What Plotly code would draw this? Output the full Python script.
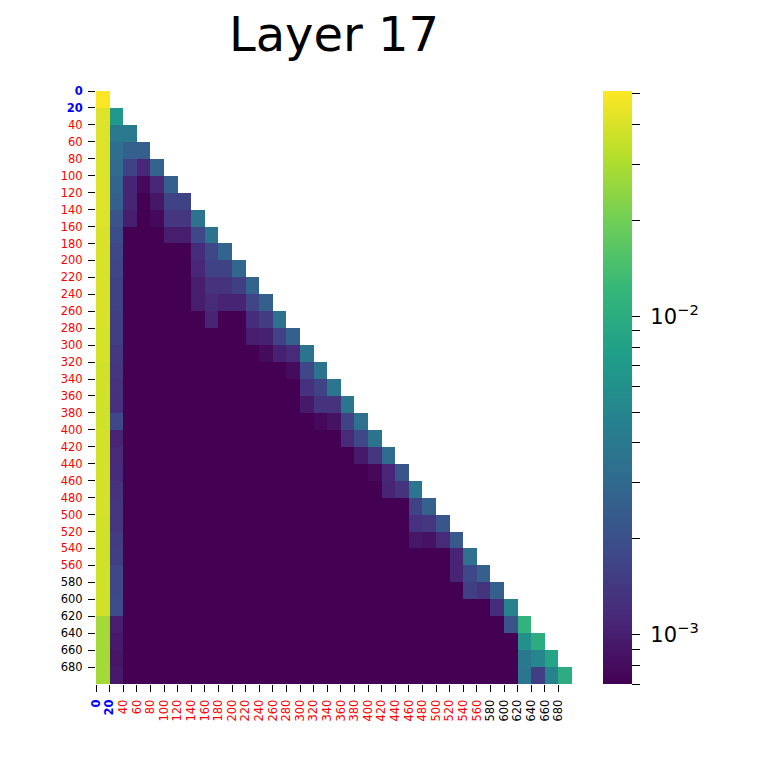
import numpy as np
import plotly.graph_objects as go

# Attention values (x 10^-3), lower-triangular rows (row i has i+1 cells)
rows_e3 = [
    [51.0],
    [41.1, 6.8],
    [41.1, 4.1, 4.1],
    [41.1, 3.28, 2.53, 2.53],
    [41.1, 3.14, 1.65, 1.12, 2.76],
    [41.1, 2.76, 1.07, 0.76, 1.12, 2.53],
    [41.1, 2.53, 1.07, 0.7, 0.9, 1.65, 1.65],
    [41.1, 2.13, 0.99, 0.7, 0.76, 1.39, 1.39, 3.57],
    [40.0, 1.96, 0.7, 0.7, 0.7, 0.99, 0.99, 1.8, 3.57],
    [40.0, 1.8, 0.7, 0.7, 0.7, 0.7, 0.7, 1.22, 1.8, 2.76],
    [40.0, 1.72, 0.7, 0.7, 0.7, 0.7, 0.7, 1.12, 1.65, 1.65, 2.88],
    [40.0, 1.65, 0.7, 0.7, 0.7, 0.7, 0.7, 0.99, 1.33, 1.33, 1.58, 2.76],
    [40.0, 1.65, 0.7, 0.7, 0.7, 0.7, 0.7, 0.99, 1.17, 1.07, 1.07, 1.72, 2.53],
    [40.0, 1.58, 0.7, 0.7, 0.7, 0.7, 0.7, 0.7, 1.07, 0.7, 0.7, 1.22, 1.51, 3.42],
    [39.0, 1.58, 0.7, 0.7, 0.7, 0.7, 0.7, 0.7, 0.7, 0.7, 0.7, 0.99, 1.03, 1.65, 2.53],
    [39.0, 1.45, 0.7, 0.7, 0.7, 0.7, 0.7, 0.7, 0.7, 0.7, 0.7, 0.7, 0.8, 1.03, 1.17, 3.57],
    [37.8, 1.39, 0.7, 0.7, 0.7, 0.7, 0.7, 0.7, 0.7, 0.7, 0.7, 0.7, 0.7, 0.7, 0.8, 1.8, 3.57],
    [37.8, 1.33, 0.7, 0.7, 0.7, 0.7, 0.7, 0.7, 0.7, 0.7, 0.7, 0.7, 0.7, 0.7, 0.7, 1.28, 1.65, 3.73],
    [37.8, 1.28, 0.7, 0.7, 0.7, 0.7, 0.7, 0.7, 0.7, 0.7, 0.7, 0.7, 0.7, 0.7, 0.7, 0.94, 1.33, 1.33, 3.73],
    [37.8, 1.8, 0.7, 0.7, 0.7, 0.7, 0.7, 0.7, 0.7, 0.7, 0.7, 0.7, 0.7, 0.7, 0.7, 0.7, 0.76, 0.87, 1.65, 3.42],
    [38.5, 1.07, 0.7, 0.7, 0.7, 0.7, 0.7, 0.7, 0.7, 0.7, 0.7, 0.7, 0.7, 0.7, 0.7, 0.7, 0.7, 0.7, 1.17, 1.8, 3.57],
    [38.5, 1.17, 0.7, 0.7, 0.7, 0.7, 0.7, 0.7, 0.7, 0.7, 0.7, 0.7, 0.7, 0.7, 0.7, 0.7, 0.7, 0.7, 0.7, 0.94, 1.39, 3.14],
    [38.5, 1.22, 0.7, 0.7, 0.7, 0.7, 0.7, 0.7, 0.7, 0.7, 0.7, 0.7, 0.7, 0.7, 0.7, 0.7, 0.7, 0.7, 0.7, 0.7, 0.76, 1.12, 2.13],
    [38.5, 1.33, 0.7, 0.7, 0.7, 0.7, 0.7, 0.7, 0.7, 0.7, 0.7, 0.7, 0.7, 0.7, 0.7, 0.7, 0.7, 0.7, 0.7, 0.7, 0.7, 1.07, 1.33, 3.73],
    [38.5, 1.39, 0.7, 0.7, 0.7, 0.7, 0.7, 0.7, 0.7, 0.7, 0.7, 0.7, 0.7, 0.7, 0.7, 0.7, 0.7, 0.7, 0.7, 0.7, 0.7, 0.7, 0.7, 1.65, 2.65],
    [37.8, 1.39, 0.7, 0.7, 0.7, 0.7, 0.7, 0.7, 0.7, 0.7, 0.7, 0.7, 0.7, 0.7, 0.7, 0.7, 0.7, 0.7, 0.7, 0.7, 0.7, 0.7, 0.7, 1.28, 1.39, 2.23],
    [37.8, 1.51, 0.7, 0.7, 0.7, 0.7, 0.7, 0.7, 0.7, 0.7, 0.7, 0.7, 0.7, 0.7, 0.7, 0.7, 0.7, 0.7, 0.7, 0.7, 0.7, 0.7, 0.7, 0.9, 0.87, 1.17, 2.33],
    [37.8, 1.58, 0.7, 0.7, 0.7, 0.7, 0.7, 0.7, 0.7, 0.7, 0.7, 0.7, 0.7, 0.7, 0.7, 0.7, 0.7, 0.7, 0.7, 0.7, 0.7, 0.7, 0.7, 0.7, 0.7, 0.7, 1.07, 3.42],
    [37.8, 1.8, 0.7, 0.7, 0.7, 0.7, 0.7, 0.7, 0.7, 0.7, 0.7, 0.7, 0.7, 0.7, 0.7, 0.7, 0.7, 0.7, 0.7, 0.7, 0.7, 0.7, 0.7, 0.7, 0.7, 0.7, 1.07, 1.8, 2.53],
    [37.8, 1.8, 0.7, 0.7, 0.7, 0.7, 0.7, 0.7, 0.7, 0.7, 0.7, 0.7, 0.7, 0.7, 0.7, 0.7, 0.7, 0.7, 0.7, 0.7, 0.7, 0.7, 0.7, 0.7, 0.7, 0.7, 0.7, 1.58, 1.33, 2.53],
    [37.8, 1.88, 0.7, 0.7, 0.7, 0.7, 0.7, 0.7, 0.7, 0.7, 0.7, 0.7, 0.7, 0.7, 0.7, 0.7, 0.7, 0.7, 0.7, 0.7, 0.7, 0.7, 0.7, 0.7, 0.7, 0.7, 0.7, 0.7, 0.7, 1.22, 4.82],
    [28.0, 0.99, 0.7, 0.7, 0.7, 0.7, 0.7, 0.7, 0.7, 0.7, 0.7, 0.7, 0.7, 0.7, 0.7, 0.7, 0.7, 0.7, 0.7, 0.7, 0.7, 0.7, 0.7, 0.7, 0.7, 0.7, 0.7, 0.7, 0.7, 0.7, 2.13, 11.4],
    [28.0, 0.94, 0.7, 0.7, 0.7, 0.7, 0.7, 0.7, 0.7, 0.7, 0.7, 0.7, 0.7, 0.7, 0.7, 0.7, 0.7, 0.7, 0.7, 0.7, 0.7, 0.7, 0.7, 0.7, 0.7, 0.7, 0.7, 0.7, 0.7, 0.7, 0.7, 5.97, 9.99],
    [28.0, 0.9, 0.7, 0.7, 0.7, 0.7, 0.7, 0.7, 0.7, 0.7, 0.7, 0.7, 0.7, 0.7, 0.7, 0.7, 0.7, 0.7, 0.7, 0.7, 0.7, 0.7, 0.7, 0.7, 0.7, 0.7, 0.7, 0.7, 0.7, 0.7, 0.7, 3.89, 5.03, 8.42],
    [28.0, 0.94, 0.7, 0.7, 0.7, 0.7, 0.7, 0.7, 0.7, 0.7, 0.7, 0.7, 0.7, 0.7, 0.7, 0.7, 0.7, 0.7, 0.7, 0.7, 0.7, 0.7, 0.7, 0.7, 0.7, 0.7, 0.7, 0.7, 0.7, 0.7, 0.7, 3.73, 1.58, 4.82, 9.99],
]

tick_labels = ["0", "20", "40", "60", "80", "100", "120", "140", "160", "180",
               "200", "220", "240", "260", "280", "300", "320", "340", "360", "380",
               "400", "420", "440", "460", "480", "500", "520", "540", "560", "580",
               "600", "620", "640", "660", "680"]
label_colors = ["blue", "blue"] + ["red"] * 27 + ["black"] * 6

cbar_tick_values = [7e-4, 8e-4, 9e-4, 1e-3, 2e-3, 3e-3, 4e-3, 5e-3, 6e-3, 7e-3,
                    8e-3, 9e-3, 1e-2, 2e-2, 3e-2, 4e-2, 5e-2]
cbar_major = {1e-3: "10<sup>\u22123</sup>", 1e-2: "10<sup>\u22122</sup>"}

n = len(tick_labels)
z = np.full((n, n), np.nan)
for i, r in enumerate(rows_e3):
    for j, v in enumerate(r):
        z[i, j] = np.log10(v * 1e-3)

zmin = float(np.nanmin(z))
zmax = float(np.nanmax(z))

def fmt(lbl, col):
    if col == "blue":
        return f'<span style="color:#0000ff"><b>{lbl}</b></span>'
    if col == "red":
        return f'<span style="color:#ff0000">{lbl}</span>'
    return f'<span style="color:#000000">{lbl}</span>'

ticktext = [fmt(l, c) for l, c in zip(tick_labels, label_colors)]
centers = [k + 0.5 for k in range(n)]

L, R, T, B = 96, 196, 91, 84
pw = 768 - L - R

fig = go.Figure(go.Heatmap(
    z=z, x=centers, y=centers,
    colorscale="Viridis", zmin=zmin, zmax=zmax,
    hoverongaps=False,
    colorbar=dict(
        thickness=29, len=1, lenmode="fraction",
        x=(603 - L) / pw, xanchor="left", y=0.5, yanchor="middle",
        xpad=0, ypad=0, outlinewidth=0,
        ticks="outside", ticklen=8, tickwidth=1.3, tickcolor="black",
        tickvals=[float(np.log10(v)) for v in cbar_tick_values],
        ticktext=["\u00a0" + cbar_major[v] if v in cbar_major else "" for v in cbar_tick_values],
        tickfont=dict(family="DejaVu Sans", size=21, color="black"),
    ),
))

axis_common = dict(
    tickvals=list(range(n)), ticktext=ticktext,
    ticks="outside", ticklen=7, tickwidth=1.3, tickcolor="black",
    showgrid=False, zeroline=False, showline=False,
    tickfont=dict(family="DejaVu Sans", size=11.5, color="black"),
    ticklabelstandoff=3,
)

fig.update_layout(
    width=768, height=768, autosize=False,
    margin=dict(l=L, r=R, t=T, b=B),
    paper_bgcolor="white", plot_bgcolor="white",
    title=dict(text="Layer 17", x=0.5, xref="paper", xanchor="center",
               y=1 - 34 / 768, yref="container", yanchor="middle",
               font=dict(family="DejaVu Sans", size=48, color="black")),
    xaxis=dict(range=[0, n], tickangle=-90, **axis_common),
    yaxis=dict(range=[n, 0], **axis_common),
)

fig.write_html("out.html")
